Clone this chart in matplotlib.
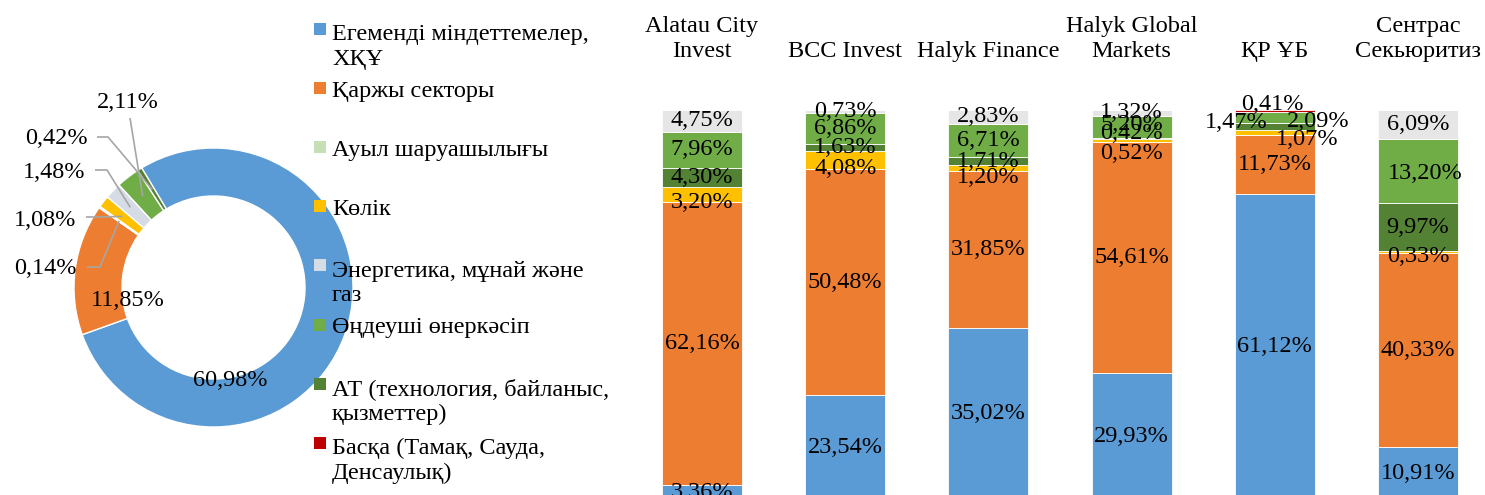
import matplotlib
matplotlib.use('Agg')
from matplotlib import pyplot as plt
from matplotlib.patches import Rectangle
import numpy as np

plt.rcParams['font.family'] = ['Liberation Serif', 'DejaVu Serif']

# Sector structure (donut, whole portfolio)
sectors = ['Егеменді міндеттемелер,\nХҚҰ', 'Қаржы секторы', 'Ауыл шаруашылығы', 'Көлік',
           'Энергетика, мұнай және\nгаз', 'Өңдеуші өнеркәсіп',
           'АТ (технология, байланыс,\nқызметтер)', 'Басқа (Тамақ, Сауда,\nДенсаулық)']
sector_colors = ['#5B9BD5', '#ED7D31', '#C5E0B4', '#FFC000', '#D6DCE5', '#70AD47', '#548235', '#C00000']
donut_values = [60.98, 11.85, 0.14, 1.08, 1.48, 2.11, 0.42, 0.0]

# Sector structure by broker (stacked bars)
brokers = ['Alatau City\nInvest', 'BCC Invest', 'Halyk Finance', 'Halyk Global\nMarkets', 'ҚР ҰБ',
           'Сентрас\nСекьюритиз']
sovereign = [3.36, 23.54, 35.02, 29.93, 61.12, 10.91]
financial = [62.16, 50.48, 31.85, 54.61, 11.73, 40.33]
transport = [3.20, 4.08, 1.20, 0.52, 1.07, 0.33]
it_sector = [4.30, 1.63, 1.71, 0.42, 1.47, 9.97]
manufacturing = [7.96, 6.86, 6.71, 5.20, 2.09, 13.20]
energy = [4.75, 0.73, 2.83, 1.32, 0.0, 6.09]
other = [0.0, 0.0, 0.0, 0.0, 0.41, 0.0]

FS = 17.5
W, H = 1485, 495


def fmt(v):
    return f"{v:.2f}".replace('.', ',') + '%'


fig = plt.figure(figsize=(W / 100, H / 100), dpi=100)

# --- overlay axes in pixel units (donut + legend)
ax0 = fig.add_axes([0, 0, 1, 1])
vals = [v for v in donut_values if v > 0]
cols = [c for v, c in zip(donut_values, sector_colors) if v > 0]
cx, cy, R = 213.5, H - 287.5, 139.5
wedges, _ = ax0.pie(vals, colors=cols, startangle=121, counterclock=False, center=(cx, cy), radius=R,
                    wedgeprops=dict(width=48, edgecolor='white', linewidth=1))
ax0.set_xlim(0, W)
ax0.set_ylim(0, H)
ax0.set_aspect('equal')
ax0.axis('off')

# label placement for donut (pixel positions from top-left)
label_pos = {0: (230, 380), 1: (128, 300), 2: (45, 268), 3: (45, 221), 4: (54, 173), 5: (128, 103), 6: (56, 138)}
leader = {2: [(87, 267), (100, 267)], 3: [(86, 217), (98, 217)], 4: [(95, 170), (107, 170)],
          5: [(130, 118)], 6: [(97, 137), (108, 137)]}
for k, w in enumerate(wedges):
    px, py = label_pos[k]
    ax0.text(px, H - py, fmt(vals[k]), ha='center', va='center', fontsize=FS)
    if k in leader:
        mid = np.deg2rad((w.theta1 + w.theta2) / 2)
        rm = R - 24
        pts = [(a, H - b) for a, b in leader[k]] + [(cx + rm * np.cos(mid), cy + rm * np.sin(mid))]
        xs, ys = zip(*pts)
        ax0.plot(xs, ys, color='#A6A6A6', lw=1.2, solid_capstyle='butt')

# legend (baseline of a multi-line text is its last line)
for i, (name, col) in enumerate(zip(sectors, sector_colors)):
    yc = 29 + i * 59.1
    ax0.add_patch(Rectangle((314, H - yc - 6), 12, 12, color=col, lw=0))
    extra = name.count('\n') * 27
    ax0.text(332, H - (yc + 9 + extra), name, ha='left', va='baseline', fontsize=FS, linespacing=1.22)

# --- stacked 100% bars
slot = 143.2
ax = fig.add_axes([(702 - slot / 2) / W, -5 / H, 6 * slot / W, 390 / H])
bar_series = [(sovereign, '#5B9BD5'), (financial, '#ED7D31'), (transport, '#FFC000'),
              (it_sector, '#548235'), (manufacturing, '#70AD47'), (energy, '#E7E6E6'), (other, '#C00000')]
data = np.array([s for s, _ in bar_series])
shares = data / data.sum(axis=0) * 100
x = np.arange(len(brokers))

# manual label nudges in px (dx right, dy down)
shift = {(2, 0): (0, 8), (2, 1): (0, 8), (2, 2): (0, 9), (2, 3): (0, 13), (2, 4): (32, 6.5), (2, 5): (0, 5),
         (3, 3): (0, -5), (3, 4): (-39, -4), (4, 4): (43, 4), (6, 4): (-2, -7), (4, 3): (0, -2),
         (4, 5): (7, 2)}

bottom = np.zeros(len(brokers))
for k, (series, color) in enumerate(bar_series):
    ax.bar(x, shares[k], 0.56, bottom=bottom, color=color, edgecolor='white', linewidth=0.6)
    for i in range(len(brokers)):
        if data[k, i] <= 0:
            continue
        dx, dy = shift.get((k, i), (0, 0))
        ax.annotate(fmt(data[k, i]), (x[i], bottom[i] + shares[k, i] / 2), xytext=(dx * 0.72, -dy * 0.72),
                    textcoords='offset points', ha='center', va='center', fontsize=FS, annotation_clip=False)
    bottom += shares[k]

for i, name in enumerate(brokers):
    ax.annotate(name, (x[i], 100), xytext=(0, 48 * 0.72), textcoords='offset points', ha='center',
                va='bottom', fontsize=FS, linespacing=1.22, annotation_clip=False)

ax.set_xlim(-0.5, 5.5)
ax.set_ylim(0, 100)
ax.axis('off')

fig.savefig('out.png', dpi=100)
